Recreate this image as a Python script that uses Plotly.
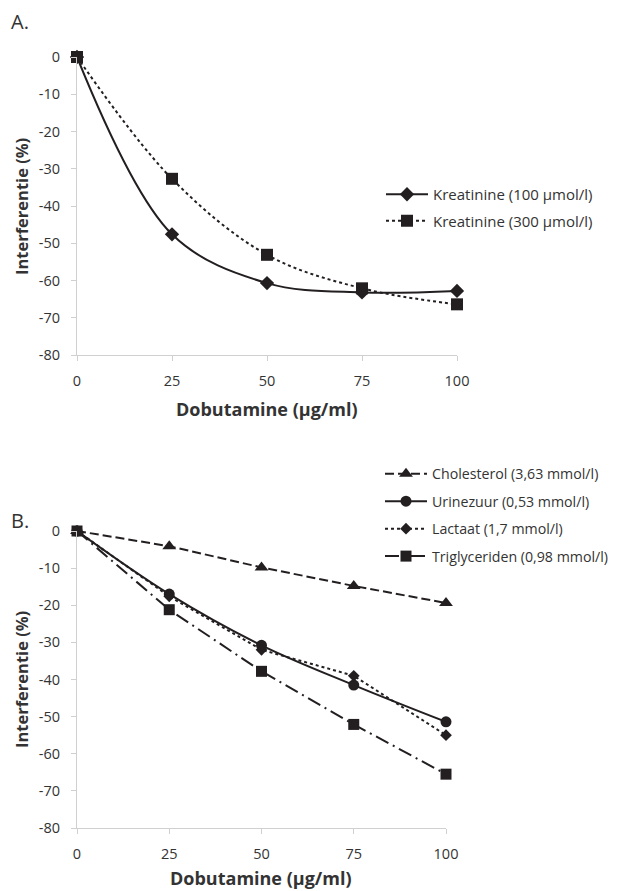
import plotly.graph_objects as go

dose = [0, 25, 50, 75, 100]

# Panel A
kreat100 = [0, -47.6, -60.7, -63.2, -62.8]
kreat300 = [0, -32.7, -53.1, -62.1, -66.4]

# Panel B
cholesterol = [0, -4.1, -9.8, -14.8, -19.4]
urinezuur = [0, -17.0, -30.8, -41.5, -51.4]
lactaat = [0, -17.6, -32.0, -39.0, -55.0]
triglyceriden = [0, -21.2, -37.8, -52.1, -65.5]

x_ticks = [0, 25, 50, 75, 100]
y_ticks = [0, -10, -20, -30, -40, -50, -60, -70, -80]
y_ticktext = ["0", "-10", "-20", "-30", "-40", "-50", "-60", "-70", "-80"]

FONT = "Open Sans"
INK = "#231f20"
AX = "#d0d0d0"
TXT = "#333333"

# page body has an 8px margin; figure sized so it ends at the window edge
OFF = 8
W, H = 617 - OFF, 891 - OFF

def X(px):
    return (px - OFF) / W

def Y(py):
    return 1 - (py - OFF) / H

fig = go.Figure()

def add(x, y, name, dash, symbol, size, xa, ya, legend, shape="linear", width=2):
    fig.add_trace(go.Scatter(
        x=x, y=y, name=name, mode="lines+markers", legendgroup=name,
        line=dict(color=INK, width=width, dash=dash, shape=shape, smoothing=1),
        marker=dict(symbol=symbol, size=size, color=INK),
        xaxis=xa, yaxis=ya, legend=legend, cliponaxis=False))

add(dose, kreat100, "Kreatinine (100 µmol/l)", "solid", "diamond", 11, "x", "y", "legend", "spline")
add(dose, kreat300, "Kreatinine (300 µmol/l)", "dot", "square", 12, "x", "y", "legend", "spline")

add(dose, cholesterol, "Cholesterol (3,63 mmol/l)", "9px,4px", "triangle-up", 12, "x2", "y2", "legend2")
add(dose, urinezuur, "Urinezuur (0,53 mmol/l)", "solid", "circle", 11, "x2", "y2", "legend2", "spline")
add(dose, lactaat, "Lactaat (1,7 mmol/l)", "dot", "diamond", 9, "x2", "y2", "legend2")
add(dose, triglyceriden, "Triglyceriden (0,98 mmol/l)", "14px,5px,2px,5px", "square", 11, "x2", "y2", "legend2")

def xaxis(dom, anchor):
    return dict(domain=dom, range=[0, 100], tickvals=x_ticks, showgrid=False, zeroline=False,
                showline=True, linecolor=AX, linewidth=1, ticks="outside", tickcolor=AX,
                ticklen=5, anchor=anchor, automargin=False, ticklabelstandoff=8,
                tickfont=dict(size=14.5, color=TXT, family=FONT))

def yaxis(dom, anchor):
    return dict(domain=dom, range=[-80, 0], tickvals=y_ticks, ticktext=y_ticktext, showgrid=False,
                zeroline=False, showline=True, linecolor=AX, linewidth=1, ticks="outside",
                tickcolor=AX, ticklen=5, anchor=anchor, automargin=False, ticklabelstandoff=8,
                tickfont=dict(size=14.5, color=TXT, family=FONT))

fig.update_layout(
    width=W, height=H, paper_bgcolor="white", plot_bgcolor="white",
    margin=dict(l=0, r=0, t=0, b=0, autoexpand=False),
    font=dict(family=FONT, color=TXT),
    xaxis=xaxis([X(77), X(457)], "y"),
    yaxis=yaxis([Y(355), Y(57)], "x"),
    xaxis2=xaxis([X(77), X(446)], "y2"),
    yaxis2=yaxis([Y(828), Y(531)], "x2"),
    legend=dict(x=X(381), y=Y(178), xanchor="left", yanchor="top",
                font=dict(size=15, color=TXT, family=FONT), bgcolor="rgba(0,0,0,0)",
                tracegroupgap=4, itemwidth=42),
    legend2=dict(x=X(380), y=Y(458), xanchor="left", yanchor="top",
                 font=dict(size=14.2, color=TXT, family=FONT), bgcolor="rgba(0,0,0,0)",
                 tracegroupgap=6, itemwidth=42),
    showlegend=True,
)

def ann(text, x, y, size, angle=0, bold=False):
    fig.add_annotation(text=f"<b>{text}</b>" if bold else text, x=X(x), y=Y(y),
                       xref="paper", yref="paper", xanchor="center", yanchor="middle",
                       showarrow=False, textangle=angle,
                       font=dict(size=size, color=TXT, family=FONT))

ann("A.", 20, 22, 20)
ann("B.", 20, 520, 20)
ann("Dobutamine (µg/ml)", 267, 409, 18, bold=True)
ann("Dobutamine (µg/ml)", 261, 878, 18, bold=True)
ann("Interferentie (%)", 21, 207, 16.5, angle=-90, bold=True)
ann("Interferentie (%)", 21, 680, 16.5, angle=-90, bold=True)

fig.write_html("out.html")
